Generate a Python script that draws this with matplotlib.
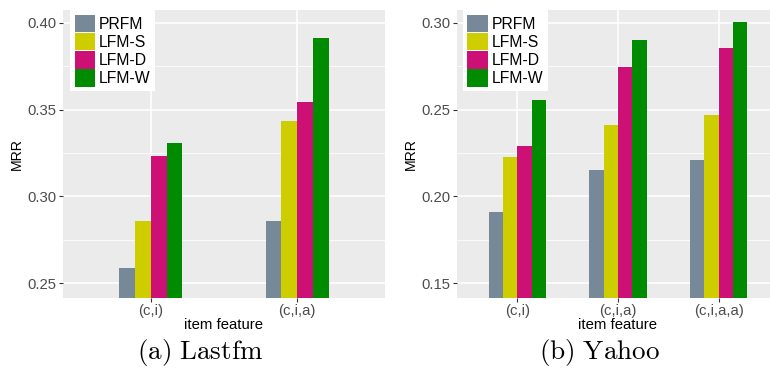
import matplotlib
matplotlib.use("Agg")
import matplotlib.pyplot as plt
from matplotlib.patches import Patch
import numpy as np

plt.rcParams['font.family'] = ['Liberation Sans', 'DejaVu Sans']
plt.rcParams['mathtext.fontset'] = 'cm'

methods = ["PRFM", "LFM-S", "LFM-D", "LFM-W"]
colors = ["#778899", "#CDCD00", "#CD1076", "#008B00"]

lastfm_cats = ["(c,i)", "(c,i,a)"]
lastfm_vals = {
    "PRFM":  [0.259, 0.286],
    "LFM-S": [0.286, 0.3435],
    "LFM-D": [0.323, 0.3545],
    "LFM-W": [0.331, 0.3912],
}
lastfm_yticks = [0.25, 0.30, 0.35, 0.40]

yahoo_cats = ["(c,i)", "(c,i,a)", "(c,i,a,a)"]
yahoo_vals = {
    "PRFM":  [0.191, 0.2153, 0.221],
    "LFM-S": [0.2228, 0.2412, 0.247],
    "LFM-D": [0.229, 0.2746, 0.2855],
    "LFM-W": [0.2556, 0.2902, 0.3005],
}
yahoo_yticks = [0.15, 0.20, 0.25, 0.30]

W, H = 770, 376
fig = plt.figure(figsize=(W / 100, H / 100), dpi=100)


def px_axes(x0, x1, y0, y1):
    return fig.add_axes([x0 / W, 1 - y1 / H, (x1 - x0) / W, (y1 - y0) / H])


def draw(ax, cats, vals, yticks, ylim, xlim, barw, leg_x, xlabel_x):
    ax.set_facecolor("#EBEBEB")
    for s in ax.spines.values():
        s.set_visible(False)
    x = np.arange(1, len(cats) + 1)
    n = len(methods)
    for i, m in enumerate(methods):
        ax.bar(x + (i - (n - 1) / 2) * barw, vals[m], width=barw, color=colors[i],
               zorder=3, linewidth=0)
    ax.set_xlim(*xlim)
    ax.set_ylim(*ylim)
    ax.set_xticks(x)
    ax.set_xticklabels(cats)
    ax.set_yticks(yticks)
    ax.set_yticklabels([f"{t:.2f}" for t in yticks])
    minor = [(yticks[i] + yticks[i + 1]) / 2 for i in range(len(yticks) - 1)]
    ax.set_yticks(minor, minor=True)
    ax.grid(True, which="major", color="white", linewidth=1.1, zorder=0)
    ax.grid(True, which="minor", axis="y", color="white", linewidth=0.55, zorder=0)
    ax.set_axisbelow(True)
    ax.tick_params(which="major", length=3, width=0.8, color="#333333",
                   labelcolor="#4D4D4D", labelsize=10.7, pad=1.5)
    ax.tick_params(which="minor", length=0)
    ax.set_ylabel("MRR", fontsize=10.2, color="black", labelpad=2.5)
    ax.set_xlabel("item feature", fontsize=10.7, color="black")
    ax.xaxis.set_label_coords(xlabel_x, -0.07)
    handles = [Patch(facecolor=c, edgecolor="none") for c in colors]
    leg = ax.legend(handles, methods, loc="upper left", bbox_to_anchor=(leg_x, 1.0),
                    frameon=True, fancybox=False, framealpha=1, edgecolor="none",
                    facecolor="white", fontsize=11.3, handlelength=1.3, handleheight=1.35,
                    handletextpad=0.25, labelspacing=0.03, borderpad=0.3,
                    borderaxespad=0)
    leg.set_zorder(5)


ax1 = px_axes(63, 385, 10, 297.7)
draw(ax1, lastfm_cats, lastfm_vals, lastfm_yticks, (0.2417, 0.4073), (0.4, 2.6),
     0.108, 0.022, 0.5)

ax2 = px_axes(457, 770, 10, 297.7)
draw(ax2, yahoo_cats, yahoo_vals, yahoo_yticks, (0.1417, 0.3073), (0.4, 3.51),
     0.142, 0.018, 0.513)

fig.text(200 / W, 1 - 352 / H, r"$\mathrm{(a)\ Lastfm}$", ha="center", va="center",
         fontsize=19.5)
fig.text(600 / W, 1 - 352 / H, r"$\mathrm{(b)\ Yahoo}$", ha="center", va="center",
         fontsize=19.5)

fig.savefig("out.png", dpi=100)
